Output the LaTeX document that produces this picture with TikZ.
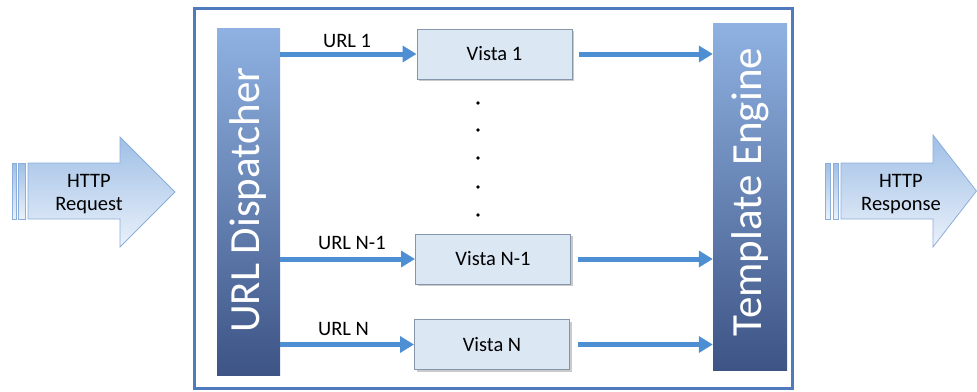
\documentclass[tikz,border=0pt]{standalone}
\usepackage{fontspec}
\setmainfont{Carlito}
\usetikzlibrary{arrows.meta,shadows}

\definecolor{frameblue}{HTML}{4F7BBE}
\definecolor{flowblue}{HTML}{4E8ED2}
\definecolor{boxfill}{HTML}{DCE7F4}
\definecolor{boxline}{HTML}{8696AA}
\definecolor{bartop}{HTML}{8FB2E2}
\definecolor{barbottom}{HTML}{3D5485}
\definecolor{httptop}{HTML}{9FBFE6}
\definecolor{httpbottom}{HTML}{EAF1FA}
\definecolor{httpline}{HTML}{8CAEDB}

\tikzset{
  lbl/.style={font=\fontsize{20.5}{24}\selectfont, inner sep=0pt},
  vista/.style={draw=boxline, line width=1pt, fill=boxfill, minimum width=155pt,
    minimum height=50pt, inner sep=0pt, font=\fontsize{20.5}{24}\selectfont,
    drop shadow={shadow xshift=2pt, shadow yshift=-2pt, opacity=0.35, fill=black!60}},
  bar/.style={top color=bartop, bottom color=barbottom, draw=none, inner sep=0pt},
  bartext/.style={rotate=90, text=white, font=\fontsize{43}{50}\selectfont, inner sep=0pt},
  flow/.style={draw=flowblue, line width=5pt, -{Triangle[length=14pt,width=16pt]}},
  httpbody/.style={top color=httptop, bottom color=httpbottom, draw=httpline, line width=0.8pt},
}

\begin{document}
\begin{tikzpicture}[x=1pt, y=-1pt]
  \useasboundingbox (0,0) rectangle (977,391);

  % incoming request arrow
  \path[httpbody] (12,163) rectangle (16,219);
  \path[httpbody] (18,163) rectangle (25,219);
  \path[httpbody] (28,163) -- (120,163) -- (120,137) -- (175,192) -- (120,247)
    -- (120,219) -- (28,219) -- cycle;
  \node[lbl, align=center] (req) at (89,194) {HTTP\\[-1pt]Request};

  % outgoing response arrow
  \path[httpbody] (825,163) rectangle (830,219);
  \path[httpbody] (833,163) rectangle (838,219);
  \path[httpbody] (841,163) -- (933,163) -- (933,135) -- (976.5,191) -- (933,247)
    -- (933,219) -- (841,219) -- cycle;
  \node[lbl, align=center] (resp) at (901,194) {HTTP\\[-1pt]Response};

  % framework frame
  \draw[frameblue, line width=3pt] (194,8) rectangle (792,388);

  % dispatcher and template engine bars
  \node[bar, minimum width=63pt, minimum height=347pt] (disp) at (248.5,201.5) {};
  \node[bartext] at (248.5,200) {URL Dispatcher};
  \node[bar, minimum width=74pt, minimum height=347pt] (tmpl) at (750,196.5) {};
  \node[bartext] at (750,192) {Template Engine};

  % views
  \node[vista] (v1) at (494.5,54) {Vista 1};
  \node[vista] (vn1) at (493,259) {Vista N-1};
  \node[vista] (vn) at (492,344.5) {Vista N};

  % ellipsis between the views
  \foreach \yy in {103,130,158,187,215}
    \fill (478,\yy) circle (1.8pt);

  % dispatcher to views
  \draw[flow] (disp.east |- v1) -- (v1.west);
  \draw[flow] (disp.east |- vn1) -- (vn1.west);
  \draw[flow] (disp.east |- vn) -- (vn.west);
  \node[lbl, anchor=base west] at (323,47) {URL 1};
  \node[lbl, anchor=base west] at (318,249) {URL N-1};
  \node[lbl, anchor=base west] at (318,335) {URL N};

  % views to template engine
  \draw[flow] ([xshift=6pt]v1.east) -- (tmpl.west |- v1);
  \draw[flow] ([xshift=7pt]vn1.east) -- (tmpl.west |- vn1);
  \draw[flow] ([xshift=8pt]vn.east) -- (tmpl.west |- vn);
\end{tikzpicture}
\end{document}
